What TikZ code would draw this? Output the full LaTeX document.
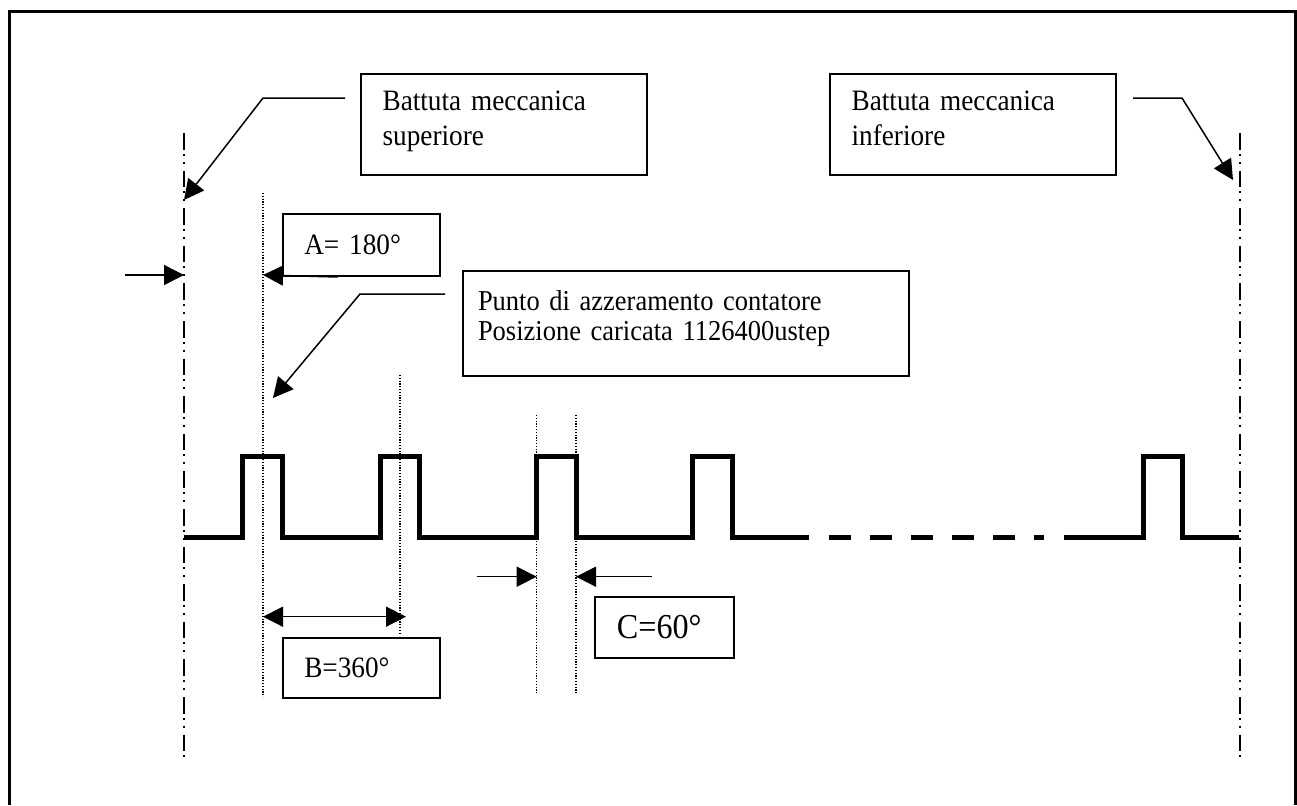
\documentclass[tikz,border=0pt]{standalone}
\usepackage{fontspec}
\setmainfont{Liberation Serif}[FakeStretch=0.92, WordSpace=0.8]
\usetikzlibrary{arrows.meta,positioning}
\newcommand\lift[1]{\rule[-#1]{0pt}{#1}}

\begin{document}
\begin{tikzpicture}[x=0.5pt, y=-0.5pt,
  % Node styles
  bx/.style={draw, line width=1pt, anchor=north west, align=left,
             inner xsep=10.8pt, inner ysep=0pt, font=\fontsize{14.8}{17.5}\selectfont},
  % Line styles
  cornice/.style={line width=1.5pt},
  sig/.style={line width=2.5pt, line join=miter},
  stopline/.style={line width=0.7pt, dash pattern=on 8.3pt off 2pt on 1pt off 3pt on 1pt off 3.5pt},
  refline/.style={line width=0.6pt, dash pattern=on 0.6pt off 0.8pt},
  % Arrow styles
  lead/.style={line width=0.75pt, -{Triangle[length=10pt, width=10pt]}},
  quota/.style={line width=0.75pt, {Triangle[length=10pt, width=10pt]}-{Triangle[length=10pt, width=10pt]}},
]
\useasboundingbox (0,0) rectangle (1297,805);

% === Outer frame (open at the bottom) ===
\draw[cornice] (9,805) -- (9,11) -- (1295,11) -- (1295,805);

% === Text boxes ===
\node[bx, text width=121.4pt, minimum height=50.5pt] (BMS) at (360,72.7) {Battuta meccanica\\superiore\lift{6.3pt}};
\node[bx, text width=121.4pt, minimum height=50.5pt] (BMI) at (829,72.7) {Battuta meccanica\\inferiore\lift{6.3pt}};
\node[bx, text width=57.2pt, minimum height=30.85pt] (DA) at (281.7,213.3) {A= 180°};
\node[bx, inner xsep=7.5pt, text width=208pt, minimum height=52.5pt,
      font=\fontsize{14.4}{14.7}\selectfont] (PAC) at (462,270)
      {Punto di azzeramento contatore\\Posizione caricata 1126400ustep\lift{8.1pt}};
\node[bx, text width=57.2pt, minimum height=30pt] (DB) at (281.7,636.7) {B=360°};
\node[bx, text width=47.6pt, minimum height=30.35pt, font=\fontsize{17.5}{19}\selectfont] (DC) at (594.3,596) {C=60°};

% === Mechanical stops (dash-dot-dot) ===
\coordinate (LT) at (184,133);  \coordinate (LB) at (184,758);
\coordinate (RT) at (1240,133); \coordinate (RB) at (1240,758);
\draw[stopline] (LT) -- (LB);
\draw[stopline] (RT) -- (RB);

% === Reference lines (dotted) ===
\foreach \x/\t/\b in {263/193/697, 400/375/635, 536.7/415/693, 576/415/693}
  \draw[refline] (\x,\t) -- (\x,\b);

% === Pulse train ===
\draw[sig] (184,537) foreach \x in {242.7,380,536.7,692.7} { -- (\x,537) -- (\x,456) -- ++(39.5,0) -- ++(0,81) } -- (809,537);
\foreach \x in {829,870,911,952,993}
  \draw[sig] (\x,537) -- ++(22,0);
\draw[sig] (1034,537) -- ++(10,0);
\draw[sig] (1064,537) -- (1143,537) -- (1143,456) -- (1182.5,456) -- (1182.5,537) -- (1239,537);

% === Leaders ===
\coordinate (BMSk) at (263,98);   \coordinate (BMSt) at (184,200);
\coordinate (BMIk) at (1182,98);  \coordinate (BMIt) at (1233,180);
\coordinate (PACk) at (360,294);  \coordinate (PACt) at (273,398);
\draw[lead] ([xshift=-7.5pt, yshift=-12.65pt]BMS.north west) -- (BMSk) -- (BMSt);
\draw[lead] ([xshift=8pt, yshift=-12.65pt]BMI.north east) -- (BMIk) -- (BMIt);
\draw[lead] ([xshift=-8.5pt, yshift=-12pt]PAC.north west) -- (PACk) -- (PACt);

% === Dimension arrows ===
\coordinate (Aend) at (263,275);  \coordinate (Ain) at (125,275);  \coordinate (Astop) at (184,275);
\draw[lead] ([xshift=28pt]DA.south west) -- (Aend);
\draw[lead] (Ain) -- (Astop);

\coordinate (B1) at (263,616.7);  \coordinate (B2) at (406,616.7);
\draw[quota] (B1) -- (B2);

\coordinate (C1) at (476.7,576.7); \coordinate (C1t) at (536.7,576.7);
\coordinate (C2) at (651.7,576.7); \coordinate (C2t) at (576,576.7);
\draw[lead] (C1) -- (C1t);
\draw[lead] (C2) -- (C2t);

\end{tikzpicture}
\end{document}
